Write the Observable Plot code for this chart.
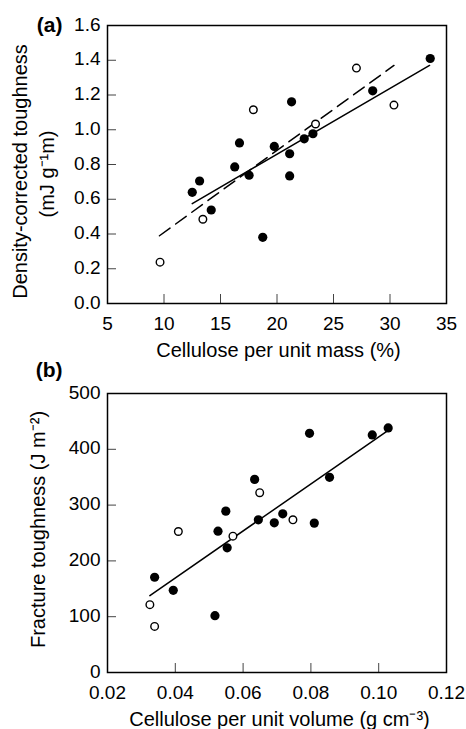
<!DOCTYPE html>
<html>
<head>
<meta charset="utf-8">
<script src="https://cdn.jsdelivr.net/npm/d3@7"></script>
<script src="https://cdn.jsdelivr.net/npm/@observablehq/plot@0.6"></script>
<style>
  body { margin: 0; background: #fff; }
  #chart svg { display: block; }
</style>
</head>
<body>
<div id="chart"></div>
<script>
// ---- Panel (a): cellulose per unit mass vs density-corrected toughness ----
const massFilledX = [12.5, 13.15, 14.18, 16.26, 16.68, 17.53, 18.74, 19.76, 21.12, 21.12, 21.29, 22.41, 23.18, 28.47, 33.56];
const massFilledY = [0.64, 0.705, 0.538, 0.786, 0.924, 0.738, 0.381, 0.904, 0.862, 0.734, 1.161, 0.948, 0.977, 1.224, 1.41];
const massOpenX = [9.65, 13.44, 17.91, 23.41, 27.03, 30.35];
const massOpenY = [0.238, 0.485, 1.115, 1.033, 1.355, 1.142];
// fitted lines (end points)
const massSolidX = [12.5, 33.5];
const massSolidY = [0.575, 1.37];
const massDashX = [9.6, 30.35];
const massDashY = [0.39, 1.37];
const massXTicks = [5, 10, 15, 20, 25, 30, 35];
const massYTicks = [0, 0.2, 0.4, 0.6, 0.8, 1.0, 1.2, 1.4, 1.6];

// ---- Panel (b): cellulose per unit volume vs fracture toughness ----
const volFilledX = [0.0339, 0.0394, 0.0517, 0.0526, 0.0549, 0.0553, 0.0634, 0.0645, 0.0692, 0.0717, 0.0796, 0.0810, 0.0855, 0.0981, 0.1028];
const volFilledY = [170.7, 147.3, 101.8, 253.3, 289.2, 223.4, 346.1, 273.7, 268.3, 284.4, 428.7, 267.7, 349.7, 425.7, 438.3];
const volOpenX = [0.0325, 0.0339, 0.0409, 0.0570, 0.0649, 0.0747];
const volOpenY = [121.6, 82.6, 252.7, 244.3, 322.2, 273.7];
const volSolidX = [0.0325, 0.1028];
const volSolidY = [137.7, 434];
const volXTicks = [0.02, 0.04, 0.06, 0.08, 0.10, 0.12];
const volYTicks = [0, 100, 200, 300, 400, 500];

const labelsA = {panel: "(a)", x: "Cellulose per unit mass (%)", y1: "Density-corrected toughness", y2: "(mJ g\u207B\u00B9m)"};
const labelsB = {panel: "(b)", x: "Cellulose per unit volume (g cm\u207B\u00B3)", y1: "Fracture toughness (J m\u207B\u00B2)"};

const pts = (xs, ys) => xs.map((x, i) => ({x, y: ys[i]}));
const font = "'Liberation Sans', Arial, Helvetica, sans-serif";

function axes(xTicks, yTicks, xFmt, yFmt) {
  return [
    Plot.axisX({ticks: xTicks, tickSize: 0, tickPadding: 13, tickFormat: xFmt, label: null, fontSize: 19}),
    Plot.axisX({ticks: xTicks, tickSize: 9, dy: -9, fill: "none", label: null, stroke: "#444"}),
    Plot.axisY({ticks: yTicks, tickSize: 0, tickPadding: 7, tickFormat: yFmt, label: null, fontSize: 19, dy: -1}),
    Plot.axisY({ticks: yTicks, tickSize: 9, dx: 9, fill: "none", label: null, stroke: "#444"}),
    Plot.frame({strokeWidth: 1.5})
  ];
}

const plotA = Plot.plot({
  width: 466, height: 362,
  marginTop: 25, marginBottom: 59, marginLeft: 107, marginRight: 20,
  style: {fontFamily: font, fontSize: "19px", overflow: "visible", background: "white", color: "black"},
  x: {domain: [5, 35]},
  y: {domain: [0, 1.6]},
  marks: [
    ...axes(massXTicks, massYTicks, d => String(d), d => d.toFixed(1)),
    Plot.line(pts(massSolidX, massSolidY), {x: "x", y: "y", stroke: "black", strokeWidth: 1.5}),
    Plot.line(pts(massDashX, massDashY), {x: "x", y: "y", stroke: "black", strokeWidth: 1.5, strokeDasharray: "13,7"}),
    Plot.dot(pts(massFilledX, massFilledY), {x: "x", y: "y", r: 4.6, fill: "black", stroke: "none"}),
    Plot.dot(pts(massOpenX, massOpenY), {x: "x", y: "y", r: 3.8, fill: "white", stroke: "black", strokeWidth: 1.4}),
    Plot.text([labelsA.x], {text: d => d, frameAnchor: "bottom", lineAnchor: "bottom", dy: 53, dx: 1.5, fontSize: 20}),
    Plot.text([labelsA.y1], {text: d => d, frameAnchor: "left", rotate: -90, textAnchor: "middle", lineAnchor: "middle", dx: -87, dy: 7, fontSize: 20}),
    Plot.text([labelsA.y2], {text: d => d, frameAnchor: "left", rotate: -90, textAnchor: "middle", lineAnchor: "middle", dx: -60, dy: 9.5, fontSize: 20}),
    Plot.text([labelsA.panel], {text: d => d, frameAnchor: "top-left", textAnchor: "end", lineAnchor: "middle", dx: -45, dy: 0, fontSize: 21, fontWeight: "bold"})
  ]
});

const plotB = Plot.plot({
  width: 466, height: 367,
  marginTop: 31, marginBottom: 57, marginLeft: 107, marginRight: 20,
  style: {fontFamily: font, fontSize: "19px", overflow: "visible", background: "white", color: "black"},
  x: {domain: [0.02, 0.12]},
  y: {domain: [0, 500]},
  marks: [
    ...axes(volXTicks, volYTicks, d => d.toFixed(2), d => String(d)),
    Plot.line(pts(volSolidX, volSolidY), {x: "x", y: "y", stroke: "black", strokeWidth: 1.5}),
    Plot.dot(pts(volFilledX, volFilledY), {x: "x", y: "y", r: 4.6, fill: "black", stroke: "none"}),
    Plot.dot(pts(volOpenX, volOpenY), {x: "x", y: "y", r: 3.8, fill: "white", stroke: "black", strokeWidth: 1.4}),
    Plot.text([labelsB.x], {text: d => d, frameAnchor: "bottom", lineAnchor: "bottom", dy: 53, dx: 2.5, fontSize: 20}),
    Plot.text([labelsB.y1], {text: d => d, frameAnchor: "left", rotate: -90, textAnchor: "middle", lineAnchor: "middle", dx: -69, dy: -3.5, fontSize: 20}),
    Plot.text([labelsB.panel], {text: d => d, frameAnchor: "top-left", textAnchor: "end", lineAnchor: "middle", dx: -45, dy: -23, fontSize: 21, fontWeight: "bold"})
  ]
});

const chart = document.getElementById("chart");
chart.appendChild(plotA);
chart.appendChild(plotB);
</script>
</body>
</html>
